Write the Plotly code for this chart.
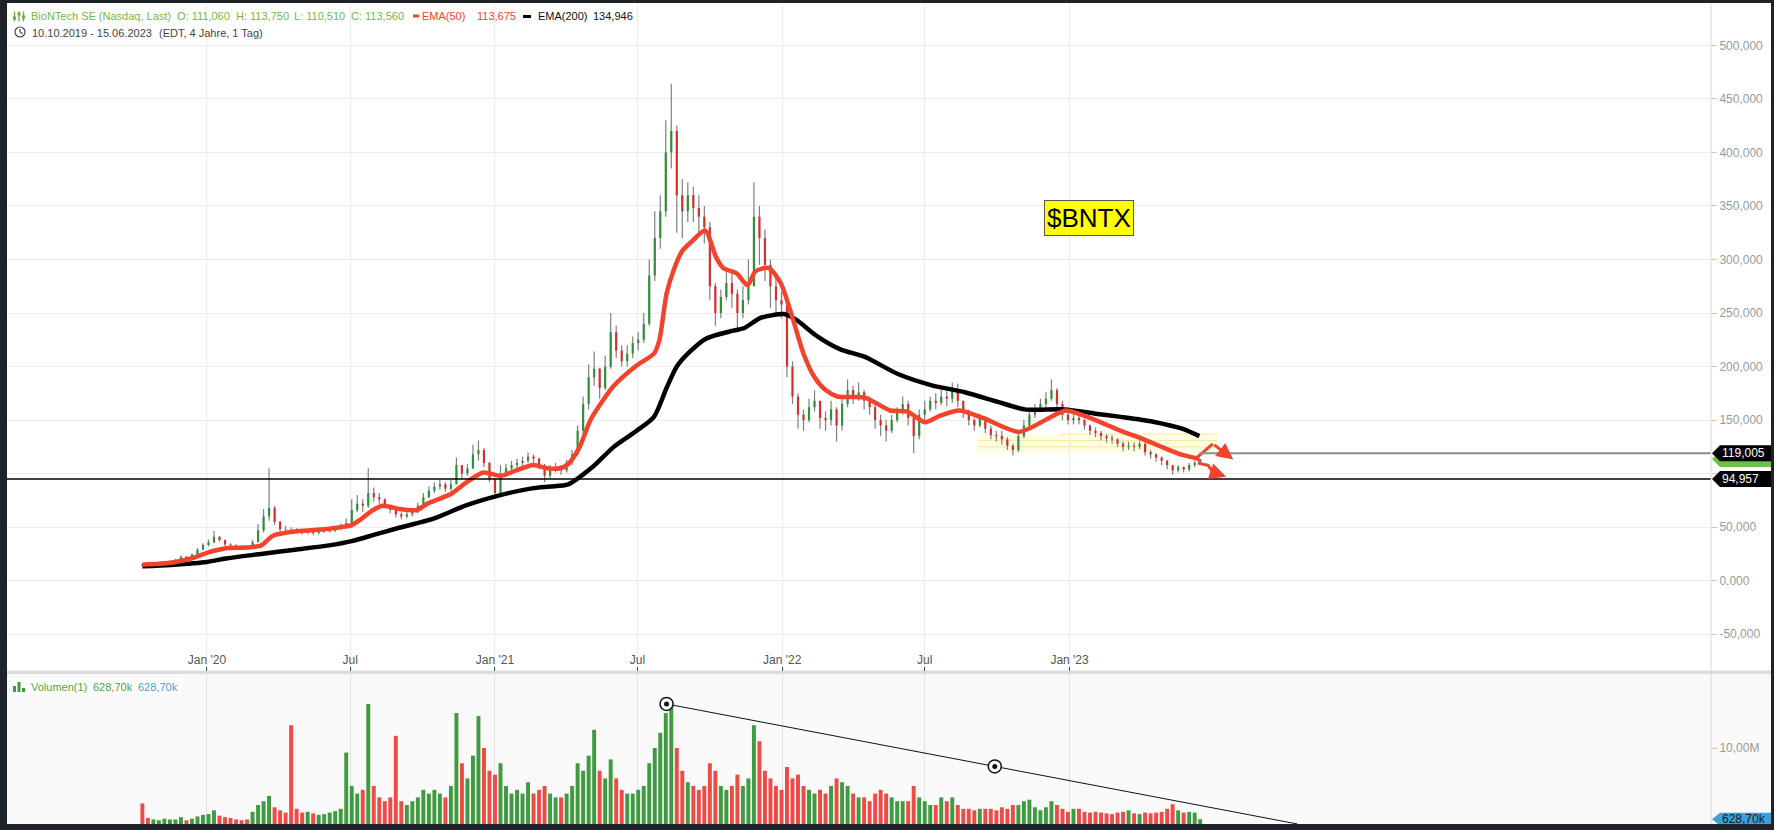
import plotly.graph_objects as go
import pandas as pd

W, H = 1774, 830
FONT = "Liberation Sans, Arial, sans-serif"

# ---------------- data ----------------
first_open = 15.0
week_close = [
    14.2, 13.8, 14.8, 15.6, 17.2, 18.0, 19.5, 22.5, 21.0, 24.5, 29.0, 33.5,
    36.0, 41.0, 38.0, 34.0, 33.0, 32.0, 31.5, 31.0, 36.0, 47.0, 60.0, 68.0,
    55.0, 48.0, 47.5, 47.0, 46.0, 45.0, 46.5, 44.5, 45.5, 46.0, 47.0, 48.0,
    51.0, 54.0, 66.0, 72.0, 70.0, 82.0, 78.0, 76.0, 70.0, 66.0, 62.0, 60.0,
    62.0, 64.0, 70.0, 78.0, 84.0, 88.0, 90.0, 86.0, 90.0, 108.0, 100.0, 105.0,
    118.0, 122.0, 110.0, 95.0, 82.0, 100.0, 105.0, 108.0, 110.0, 112.0, 116.0, 114.0,
    108.0, 98.0, 104.0, 106.0, 103.0, 110.0, 118.0, 140.0, 165.0, 190.0, 198.0, 180.0,
    200.0, 232.0, 215.0, 205.0, 212.0, 222.0, 225.0, 240.0, 285.0, 320.0, 345.0, 400.0,
    420.0, 360.0, 345.0, 360.0, 348.0, 340.0, 330.0, 275.0, 250.0, 265.0, 278.0, 268.0,
    250.0, 262.0, 275.0, 340.0, 320.0, 295.0, 275.0, 262.0, 258.0, 200.0, 172.0, 155.0,
    150.0, 162.0, 168.0, 152.0, 150.0, 160.0, 145.0, 165.0, 178.0, 172.0, 176.0, 168.0,
    162.0, 150.0, 145.0, 140.0, 150.0, 158.0, 165.0, 152.0, 135.0, 155.0, 160.0, 168.0,
    166.0, 172.0, 170.0, 178.0, 168.0, 158.0, 150.0, 145.0, 152.0, 142.0, 136.0, 135.0,
    132.0, 126.0, 122.0, 135.0, 145.0, 155.0, 160.0, 165.0, 170.0, 178.0, 165.0, 155.0,
    150.0, 152.0, 150.0, 145.0, 140.0, 138.0, 135.0, 133.0, 132.0, 128.0, 125.0, 126.0,
    125.0, 128.0, 120.0, 118.0, 115.0, 112.0, 108.0, 103.0, 106.0, 104.0, 108.0, 110.0, 113.56,
]
week_high = [
    15.8, 14.6, 15.2, 16.3, 17.9, 19.2, 20.4, 23.8, 23.0, 25.5, 30.5, 35.0,
    38.5, 46.5, 42.0, 38.5, 35.0, 34.0, 33.0, 32.5, 38.0, 53.0, 67.0, 105.0,
    70.0, 56.0, 51.0, 50.0, 49.0, 47.5, 48.0, 47.5, 47.0, 48.0, 49.0, 50.0,
    53.5, 58.0, 76.0, 80.0, 76.0, 105.0, 87.0, 82.0, 77.0, 71.0, 67.0, 64.0,
    65.0, 67.0, 73.0, 82.0, 88.0, 92.0, 94.0, 92.0, 94.0, 115.0, 108.0, 109.0,
    127.0, 131.0, 124.0, 111.0, 96.0, 108.0, 109.0, 112.0, 114.0, 116.0, 120.0, 118.0,
    115.0, 109.0, 108.0, 110.0, 108.0, 113.0, 122.0, 145.0, 172.0, 202.0, 214.0, 199.0,
    210.0, 250.0, 238.0, 220.0, 220.0, 228.0, 232.0, 250.0, 300.0, 345.0, 360.0, 430.0,
    464.0, 425.0, 375.0, 372.0, 368.0, 360.0, 350.0, 335.0, 278.0, 272.0, 292.0, 290.0,
    272.0, 275.0, 300.0, 372.0, 350.0, 328.0, 300.0, 285.0, 270.0, 258.0, 205.0, 175.0,
    160.0, 170.0, 178.0, 168.0, 158.0, 168.0, 162.0, 170.0, 188.0, 182.0, 185.0, 178.0,
    172.0, 165.0, 155.0, 150.0, 155.0, 162.0, 172.0, 168.0, 152.0, 160.0, 168.0, 172.0,
    175.0, 178.0, 177.0, 185.0, 184.0, 168.0, 160.0, 152.0, 156.0, 152.0, 145.0, 140.0,
    140.0, 134.0, 128.0, 138.0, 150.0, 160.0, 165.0, 170.0, 176.0, 188.0, 180.0, 168.0,
    158.0, 156.0, 156.0, 151.0, 146.0, 143.0, 140.0, 137.0, 136.0, 133.0, 130.0, 130.0,
    129.0, 131.0, 129.0, 122.0, 119.0, 116.0, 113.0, 108.0, 108.0, 107.0, 110.0, 112.0, 113.75,
]
week_low = [
    13.2, 12.9, 13.6, 14.5, 15.3, 16.8, 17.6, 19.2, 20.2, 20.8, 24.0, 28.5,
    32.0, 35.0, 36.5, 32.5, 31.0, 30.5, 30.0, 29.5, 30.0, 36.0, 45.0, 56.0,
    52.0, 46.0, 45.5, 45.0, 44.5, 43.0, 43.5, 42.5, 43.5, 44.5, 45.0, 45.5,
    47.5, 49.5, 54.0, 64.0, 64.0, 68.0, 74.0, 72.0, 68.0, 63.0, 59.0, 57.5,
    58.5, 60.0, 63.0, 69.0, 77.0, 82.0, 85.0, 83.0, 84.0, 90.0, 95.0, 98.0,
    104.0, 112.0, 106.0, 92.0, 80.0, 81.0, 97.0, 103.0, 104.0, 107.0, 110.0, 110.0,
    104.0, 92.0, 96.0, 101.0, 99.0, 101.0, 108.0, 117.0, 138.0, 160.0, 182.0, 170.0,
    178.0, 198.0, 208.0, 200.0, 200.0, 208.0, 215.0, 222.0, 238.0, 280.0, 310.0, 340.0,
    385.0, 325.0, 320.0, 335.0, 335.0, 325.0, 315.0, 262.0, 238.0, 245.0, 262.0, 255.0,
    236.0, 245.0, 258.0, 275.0, 295.0, 280.0, 255.0, 250.0, 245.0, 190.0, 165.0, 142.0,
    140.0, 148.0, 158.0, 142.0, 140.0, 145.0, 130.0, 140.0, 162.0, 165.0, 168.0, 160.0,
    155.0, 142.0, 135.0, 130.0, 138.0, 148.0, 155.0, 145.0, 119.0, 132.0, 150.0, 158.0,
    160.0, 164.0, 163.0, 166.0, 162.0, 152.0, 145.0, 140.0, 143.0, 138.0, 132.0, 130.0,
    127.0, 122.0, 117.0, 120.0, 133.0, 143.0, 152.0, 158.0, 162.0, 168.0, 160.0, 150.0,
    146.0, 146.0, 146.0, 141.0, 136.0, 134.0, 131.0, 129.0, 128.0, 125.0, 121.0, 122.0,
    121.0, 123.0, 117.0, 114.0, 111.0, 108.0, 104.0, 99.0, 101.0, 101.0, 102.0, 106.0, 108.0,
]
week_volume_m = [
    2.7, 0.8, 0.6, 0.5, 0.7, 0.6, 0.6, 0.9, 0.5, 0.7, 1.0, 1.2,
    1.3, 1.8, 1.1, 0.9, 0.8, 0.6, 0.5, 0.6, 1.6, 2.5, 3.0, 3.7,
    2.2, 1.8, 1.5, 13.0, 2.0, 1.5, 1.6, 1.4, 1.2, 1.3, 1.5, 1.7,
    2.0, 9.4, 5.0, 4.0, 4.5, 15.8, 5.0, 3.5, 3.0, 3.5, 11.6, 3.0,
    2.5, 3.0, 3.5, 4.5, 4.0, 4.5, 4.0, 3.5, 5.0, 14.6, 8.0, 6.0,
    9.0, 14.2, 10.0, 7.0, 6.5, 8.0, 5.0, 4.0, 4.5, 4.0, 5.5, 4.0,
    4.5, 5.0, 4.0, 3.5, 3.5, 4.0, 5.0, 8.0, 7.0, 9.0, 12.4, 7.0,
    6.0, 8.5, 6.0, 4.5, 4.0, 4.0, 4.5, 5.0, 8.0, 10.0, 12.0, 14.6,
    16.0, 10.0, 7.0, 5.5, 5.0, 4.5, 5.0, 8.0, 7.0, 5.0, 4.5, 5.0,
    6.5, 5.0, 6.0, 13.0, 10.9, 7.0, 6.0, 5.0, 4.5, 7.5, 6.0, 6.5,
    5.0, 4.5, 4.0, 4.5, 4.0, 5.0, 6.0, 5.5, 5.0, 4.0, 3.5, 3.5,
    3.0, 4.0, 4.5, 4.0, 3.5, 3.0, 3.0, 3.0, 5.0, 3.5, 3.0, 2.5,
    2.5, 3.5, 3.0, 3.5, 2.5, 2.0, 2.0, 1.8, 2.0, 2.0, 2.0, 1.8,
    2.2, 2.0, 2.5, 2.5, 3.0, 3.2, 2.2, 1.8, 2.2, 3.0, 2.5, 2.0,
    1.6, 2.0, 2.0, 1.6, 1.5, 1.6, 1.5, 1.4, 1.3, 1.5, 1.6, 1.8,
    1.4, 1.3, 1.5, 1.4, 1.5, 1.6, 2.0, 2.6, 1.8, 1.5, 1.6, 1.5, 0.63,
]

ema50_dates = [
    "2019-10-11", "2019-11-01", "2019-11-22", "2019-12-13", "2020-01-01", "2020-01-27",
    "2020-02-20", "2020-03-10", "2020-03-25", "2020-04-22", "2020-05-20", "2020-06-18",
    "2020-07-03", "2020-07-14", "2020-07-28", "2020-08-11", "2020-09-02", "2020-09-24",
    "2020-10-07", "2020-11-06", "2020-11-26", "2020-12-17", "2021-01-08", "2021-01-28",
    "2021-02-19", "2021-03-08", "2021-03-25", "2021-04-04", "2021-04-18", "2021-05-03",
    "2021-06-01", "2021-06-30", "2021-07-22", "2021-07-29", "2021-08-07", "2021-08-17",
    "2021-08-27", "2021-09-09", "2021-09-25", "2021-10-09", "2021-10-18", "2021-11-04",
    "2021-11-18", "2021-11-28", "2021-12-15", "2021-12-30", "2022-01-13", "2022-01-28",
    "2022-02-11", "2022-02-25", "2022-03-12", "2022-04-16", "2022-05-18", "2022-06-09",
    "2022-07-01", "2022-07-20", "2022-08-14", "2022-09-13", "2022-10-29", "2022-12-06",
    "2022-12-27", "2023-02-03", "2023-03-07", "2023-04-02", "2023-05-01", "2023-05-22",
    "2023-06-15",
]
ema50_values = [
    15.0, 15.8, 17.5, 21.0, 26.0, 30.5,
    31.0, 33.0, 42.0, 46.0, 47.5, 50.0,
    52.0, 57.0, 65.0, 70.0, 67.0, 66.0,
    72.0, 81.0, 92.0, 101.0, 98.0, 103.0,
    108.0, 105.0, 105.0, 109.0, 124.0, 151.0,
    182.0, 201.0, 212.0, 225.0, 268.0, 292.0,
    308.0, 317.5, 327.0, 302.0, 292.0, 287.0,
    276.0, 289.0, 292.0, 278.0, 248.0, 212.0,
    190.0, 178.0, 172.0, 171.0, 159.0, 158.0,
    148.0, 154.0, 159.0, 152.0, 139.0, 152.0,
    159.0, 150.0, 140.0, 133.0, 124.0, 118.0,
    113.7,
]
ema200_dates = [
    "2019-10-11", "2019-11-16", "2020-01-01", "2020-01-27", "2020-03-10", "2020-04-22",
    "2020-06-04", "2020-07-03", "2020-08-01", "2020-08-30", "2020-10-15", "2020-11-26",
    "2021-01-08", "2021-02-19", "2021-03-12", "2021-04-04", "2021-05-03", "2021-06-01",
    "2021-06-30", "2021-07-22", "2021-08-07", "2021-08-20", "2021-09-03", "2021-09-26",
    "2021-10-31", "2021-11-14", "2021-12-03", "2021-12-20", "2022-01-03", "2022-01-18",
    "2022-02-15", "2022-03-16", "2022-04-16", "2022-05-28", "2022-07-10", "2022-08-21",
    "2022-10-02", "2022-11-05", "2022-12-26", "2023-02-03", "2023-03-07", "2023-04-17",
    "2023-05-24", "2023-06-15",
]
ema200_values = [
    13.5, 14.8, 17.5, 21.0, 25.0, 29.0,
    33.0, 37.0, 43.0, 49.0, 58.0, 70.6,
    80.0, 86.5, 88.0, 90.0, 105.0, 125.0,
    140.0, 153.0, 180.0, 200.0, 212.0, 226.0,
    233.6, 236.0, 245.0, 248.0, 249.0, 244.0,
    228.0, 216.0, 209.0, 193.0, 182.5, 176.0,
    167.0, 160.0, 160.0, 156.0, 153.0, 148.5,
    142.0, 135.0,
]

x_tick_dates = ["2020-01-01", "2020-07-01", "2021-01-01", "2021-07-01",
                "2022-01-01", "2022-07-01", "2023-01-01"]
x_tick_labels = ["Jan '20", "Jul", "Jan '21", "Jul", "Jan '22", "Jul", "Jan '23"]
price_ticks = [-50, 0, 50, 100, 150, 200, 250, 300, 350, 400, 450, 500]
price_tick_labels = ["-50,000", "0,000", "50,000", "", "150,000", "200,000",
                     "250,000", "300,000", "350,000", "400,000", "450,000", "500,000"]

level_support = 94.957
level_resist = 119.005
last_close = 113.56
last_volume_m = 0.6287

trend_dates = ["2021-08-07", "2022-09-28"]
trend_vols = [15.8, 7.58]

arrow_up_dates = ["2023-06-12", "2023-07-02", "2023-07-28"]
arrow_up_vals = [115.2, 127.9, 113.1]
arrow_dn_dates = ["2023-06-13", "2023-06-26", "2023-07-02", "2023-07-19"]
arrow_dn_vals = [109.9, 107.8, 101.5, 97.2]

# ---------------- geometry ----------------
def px(x):
    return x / W

def py(y):
    return 1 - y / H

X_L, X_R, FRAME_R = 7, 1711, 1771
P_TOP, P_BOT = 3, 671
V_TOP, V_BOT = 674, 824
PRICE_RANGE = [-84.3, 539.5]
VOL_RANGE = [0, 19.74]
X_RANGE = ["2019-04-22", "2025-03-26"]
units_per_px = (PRICE_RANGE[1] - PRICE_RANGE[0]) / (P_BOT - P_TOP)
vol_per_px = (VOL_RANGE[1] - VOL_RANGE[0]) / (V_BOT - V_TOP)

UP_C, DN_C, WICK_C = "#2f8f3a", "#d3302b", "#7f7f7f"
VUP_C, VDN_C = "#3f9b3f", "#ee4b44"
EMA50_C = "#f4432c"

week_dates = pd.date_range("2019-10-11", periods=len(week_close), freq="7D")
week_open = [first_open] + week_close[:-1]

wx, wy = [], []
ux, uy, dx, dy = [], [], [], []
vol_colors = []
for d, o, h, l, c in zip(week_dates, week_open, week_high, week_low, week_close):
    wx += [d, d, None]
    wy += [l, h, None]
    if c >= o:
        ux += [d, d, None]
        uy += [o, c, None]
        vol_colors.append(VUP_C)
    else:
        dx += [d, d, None]
        dy += [o, c, None]
        vol_colors.append(VDN_C)

fig = go.Figure()
fig.add_trace(go.Scatter(x=wx, y=wy, mode="lines", line=dict(color=WICK_C, width=1.2),
                         hoverinfo="skip", xaxis="x", yaxis="y"))
fig.add_trace(go.Scatter(x=ux, y=uy, mode="lines", line=dict(color=UP_C, width=2.2),
                         hoverinfo="skip", xaxis="x", yaxis="y"))
fig.add_trace(go.Scatter(x=dx, y=dy, mode="lines", line=dict(color=DN_C, width=2.2),
                         hoverinfo="skip", xaxis="x", yaxis="y"))
fig.add_trace(go.Scatter(x=ema200_dates, y=ema200_values, mode="lines",
                         line=dict(color="#000000", width=4.5, shape="spline", smoothing=0.7),
                         xaxis="x", yaxis="y"))
fig.add_trace(go.Scatter(x=ema50_dates, y=ema50_values, mode="lines",
                         line=dict(color=EMA50_C, width=4.5, shape="spline", smoothing=0.7),
                         xaxis="x", yaxis="y"))

# red drawn arrows
fig.add_trace(go.Scatter(x=arrow_up_dates[:-1], y=arrow_up_vals[:-1], mode="lines",
                         line=dict(color=EMA50_C, width=3), xaxis="x", yaxis="y"))
fig.add_trace(go.Scatter(x=arrow_dn_dates[:-1], y=arrow_dn_vals[:-1], mode="lines",
                         line=dict(color=EMA50_C, width=3), xaxis="x", yaxis="y"))

# volume
fig.add_trace(go.Bar(x=week_dates, y=week_volume_m, marker=dict(color=vol_colors, line=dict(width=0)),
                     width=5 * 86400000, xaxis="x2", yaxis="y2", hoverinfo="skip"))

# volume trendline (drawing) extended to zero volume
t0, t1 = pd.Timestamp(trend_dates[0]), pd.Timestamp(trend_dates[1])
slope = (trend_vols[1] - trend_vols[0]) / (t1 - t0).days
t_end = t1 + pd.Timedelta(days=-trend_vols[1] / slope)
fig.add_trace(go.Scatter(x=[t0, t_end], y=[trend_vols[0], 0], mode="lines",
                         line=dict(color="#111111", width=1), xaxis="x2", yaxis="y2"))
fig.add_trace(go.Scatter(x=trend_dates, y=trend_vols, mode="markers",
                         marker=dict(size=13, color="white", line=dict(color="#111111", width=1.5)),
                         xaxis="x2", yaxis="y2"))
fig.add_trace(go.Scatter(x=trend_dates, y=trend_vols, mode="markers",
                         marker=dict(size=5, color="#111111"), xaxis="x2", yaxis="y2"))

# ---------------- shapes ----------------
shapes = []
shapes.append(dict(type="rect", xref="paper", yref="paper", x0=px(X_L), x1=px(FRAME_R),
                   y0=py(V_BOT), y1=py(P_TOP), fillcolor="white", line=dict(width=0), layer="below"))
shapes.append(dict(type="rect", xref="paper", yref="paper", x0=px(X_L), x1=px(FRAME_R),
                   y0=py(V_BOT), y1=py(V_TOP), fillcolor="#f9f9f9", line=dict(width=0), layer="below"))
shapes.append(dict(type="rect", xref="paper", yref="paper", x0=px(X_L), x1=px(FRAME_R),
                   y0=py(V_TOP), y1=py(P_BOT - 0.5), fillcolor="#dcdcdc", line=dict(width=0), layer="below"))
# yellow retracement zone
shapes.append(dict(type="rect", xref="x", yref="y", x0="2022-09-06", x1="2023-07-08",
                   y0=119.0, y1=137.0, fillcolor="#fff8c0", opacity=0.45, line=dict(width=0), layer="below"))
for lvl, start in [(137.0, "2022-12-20"), (131.0, "2022-09-06"), (125.0, "2022-09-06")]:
    shapes.append(dict(type="line", xref="x", yref="y", x0=start, x1="2023-07-08", y0=lvl, y1=lvl,
                       line=dict(color="#f3e9a0", width=1), layer="below"))
# horizontal price levels
shapes.append(dict(type="line", xref="paper", yref="y", x0=px(X_L), x1=px(X_R),
                   y0=level_support, y1=level_support, line=dict(color="#000000", width=1.5)))
shapes.append(dict(type="line", xref="x", yref="y", x0="2023-06-15", x1=X_RANGE[1],
                   y0=level_resist, y1=level_resist, line=dict(color="#8c8c8c", width=2)))
# right axis line
shapes.append(dict(type="line", xref="paper", yref="paper", x0=px(X_R), x1=px(X_R),
                   y0=py(V_BOT), y1=py(P_TOP), line=dict(color="#d8d8d8", width=1)))


def tag_path(v, half, xa=1712, xb=1720, xc=FRAME_R):
    a, b, c = px(xa), px(xb), px(xc)
    return f"M {a},{v} L {b},{v + half} L {c},{v + half} L {c},{v - half} L {b},{v - half} Z"


half_p = 8 * units_per_px
shapes.append(dict(type="path", xref="paper", yref="y", path=tag_path(last_close, half_p),
                   fillcolor="#6cc04a", line=dict(width=0)))
shapes.append(dict(type="path", xref="paper", yref="y", path=tag_path(level_resist, half_p),
                   fillcolor="#000000", line=dict(width=0)))
shapes.append(dict(type="path", xref="paper", yref="y", path=tag_path(level_support, half_p),
                   fillcolor="#000000", line=dict(width=0)))
half_v = 6.5 * vol_per_px
shapes.append(dict(type="path", xref="paper", yref="y2", path=tag_path(last_volume_m, half_v),
                   fillcolor="#3fa0d6", line=dict(width=0)))

# legend icons
G = "#6ab04c"
for xi, knob in [(14.5, 18), (19.0, 14), (23.5, 17)]:
    shapes.append(dict(type="line", xref="paper", yref="paper", x0=px(xi), x1=px(xi),
                       y0=py(21.5), y1=py(11.5), line=dict(color=G, width=1.3)))
    shapes.append(dict(type="rect", xref="paper", yref="paper", x0=px(xi - 1.6), x1=px(xi + 1.6),
                       y0=py(knob + 1.6), y1=py(knob - 1.6), fillcolor=G, line=dict(width=0)))
shapes.append(dict(type="rect", xref="paper", yref="paper", x0=px(413), x1=px(419),
                   y0=py(17.5), y1=py(14.5), fillcolor=EMA50_C, line=dict(width=0)))
shapes.append(dict(type="rect", xref="paper", yref="paper", x0=px(523), x1=px(531),
                   y0=py(18), y1=py(15), fillcolor="#000000", line=dict(width=0)))
# clock icon
shapes.append(dict(type="circle", xref="paper", yref="paper", x0=px(15), x1=px(25),
                   y0=py(37), y1=py(27), line=dict(color="#444444", width=1.2)))
shapes.append(dict(type="line", xref="paper", yref="paper", x0=px(20), x1=px(20),
                   y0=py(32), y1=py(29), line=dict(color="#444444", width=1.2)))
shapes.append(dict(type="line", xref="paper", yref="paper", x0=px(20), x1=px(22.5),
                   y0=py(32), y1=py(33.5), line=dict(color="#444444", width=1.2)))
# volume legend box and icon
shapes.append(dict(type="rect", xref="paper", yref="paper", x0=px(12), x1=px(183),
                   y0=py(695), y1=py(678), fillcolor="white", line=dict(width=0)))
for x0, top in [(13, 686), (17.5, 682), (22, 688)]:
    shapes.append(dict(type="rect", xref="paper", yref="paper", x0=px(x0), x1=px(x0 + 3),
                       y0=py(692), y1=py(top), fillcolor="#3f9a3a", line=dict(width=0)))

# ---------------- annotations ----------------
ann = []


def label(x, y, text, color, size=11, anchor="left"):
    ann.append(dict(xref="paper", yref="paper", x=px(x), y=py(y), text=text, showarrow=False,
                    xanchor=anchor, yanchor="middle", font=dict(family=FONT, size=size, color=color)))


LG = "#72b84a"
label(29, 16, "BioNTech SE (Nasdaq, Last)", LG)
label(175, 16, "O: 111,060", LG)
label(234, 16, "H: 113,750", LG)
label(292, 16, "L: 110,510", LG)
label(349, 16, "C: 113,560", LG)
label(420, 16, "EMA(50)", EMA50_C)
label(475, 16, "113,675", EMA50_C)
label(536, 16, "EMA(200)", "#111111")
label(591, 16, "134,946", "#111111")
label(30, 32.5, "10.10.2019 - 15.06.2023", "#444444")
label(157, 32.5, "(EDT, 4 Jahre, 1 Tag)", "#444444")
label(29, 687, "Volumen(1)", "#4f9f45")
label(91, 687, "628,70k", "#4f9f45")
label(136, 687, "628,70k", "#3da3cc")

for v, txt in [(level_resist, "119,005"), (level_support, "94,957")]:
    ann.append(dict(xref="paper", yref="y", x=px(1720), y=v, text=txt, showarrow=False,
                    xanchor="left", yanchor="middle", font=dict(family=FONT, size=12, color="white")))
ann.append(dict(xref="paper", yref="y2", x=px(1720), y=last_volume_m, text="628,70k", showarrow=False,
                xanchor="left", yanchor="middle", font=dict(family=FONT, size=12, color="#0d1a24")))

ann.append(dict(xref="x", yref="y", x="2023-01-26", y=338.3, text="$BNTX", showarrow=False,
                font=dict(family=FONT, size=26, color="#000000"), bgcolor="#ffff00",
                bordercolor="#555555", borderwidth=1, borderpad=2))

for ds, vs in [(arrow_up_dates, arrow_up_vals), (arrow_dn_dates, arrow_dn_vals)]:
    ann.append(dict(xref="x", yref="y", axref="x", ayref="y", x=ds[-1], y=vs[-1], ax=ds[-2], ay=vs[-2],
                    text="", showarrow=True, arrowhead=2, arrowsize=1.1, arrowwidth=3,
                    arrowcolor=EMA50_C))

fig.update_layout(
    width=W, height=H, autosize=False,
    margin=dict(l=0, r=0, t=0, b=0, pad=0),
    paper_bgcolor="#1e232a", plot_bgcolor="rgba(0,0,0,0)",
    showlegend=False,
    font=dict(family=FONT),
    xaxis=dict(domain=[px(X_L), px(X_R)], range=X_RANGE, type="date", anchor="y",
               tickvals=x_tick_dates, ticktext=x_tick_labels, ticks="inside", ticklen=4,
               tickcolor="#444444", ticklabelposition="inside",
               tickfont=dict(family=FONT, size=12, color="#555555"),
               showgrid=True, gridcolor="#ececec", gridwidth=1, zeroline=False, showline=False),
    yaxis=dict(domain=[py(P_BOT), py(P_TOP)], range=PRICE_RANGE, anchor="x", side="right",
               tickvals=price_ticks, ticktext=price_tick_labels, ticks="outside", ticklen=5,
               tickcolor="#c8c8c8", tickfont=dict(family=FONT, size=12, color="#9a9a9a"),
               showgrid=True, gridcolor="#ececec", zeroline=False, showline=False),
    xaxis2=dict(domain=[px(X_L), px(X_R)], range=X_RANGE, type="date", anchor="y2",
                tickvals=x_tick_dates, showticklabels=False, ticks="",
                showgrid=True, gridcolor="#e2e2e2", zeroline=False, showline=False),
    yaxis2=dict(domain=[py(V_BOT), py(V_TOP)], range=VOL_RANGE, anchor="x2", side="right",
                tickvals=[10], ticktext=["10,00M"], ticks="outside", ticklen=5, tickcolor="#c8c8c8",
                tickfont=dict(family=FONT, size=12, color="#9a9a9a"),
                showgrid=False, zeroline=False, showline=False),
    shapes=shapes,
    annotations=ann,
)

fig.write_html("out.html", config={"displayModeBar": False},
               post_script="document.body.style.margin='0';document.body.style.overflow='hidden';")
